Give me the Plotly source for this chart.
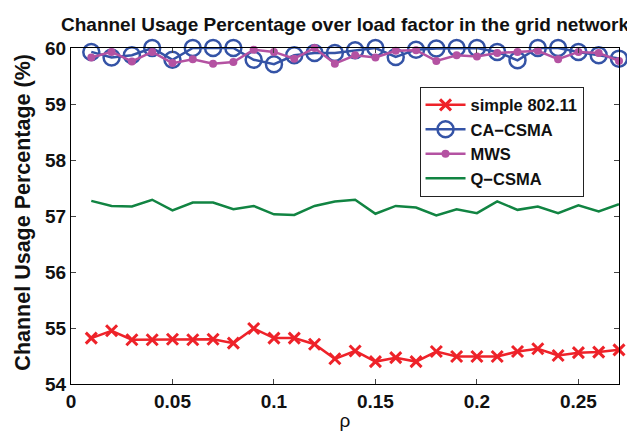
import plotly.graph_objects as go

rho = [round(0.01 * i, 2) for i in range(1, 28)]

simple_80211 = [54.82, 54.95, 54.79, 54.79, 54.80, 54.79, 54.80, 54.73, 54.99, 54.82,
                54.82, 54.71, 54.45, 54.59, 54.40, 54.47, 54.40, 54.58, 54.49, 54.49,
                54.49, 54.58, 54.63, 54.51, 54.56, 54.57, 54.61]
ca_csma = [59.93, 59.83, 59.87, 60.0, 59.79, 60.0, 60.0, 60.0, 59.79, 59.71,
           59.87, 59.91, 59.91, 59.96, 60.0, 59.84, 59.97, 59.99, 60.0, 60.0,
           59.93, 59.78, 60.0, 60.0, 59.93, 59.87, 59.81]
mws = [59.83, 59.93, 59.76, 59.93, 59.73, 59.80, 59.72, 59.75, 59.97, 59.93,
       59.81, 60.0, 59.72, 59.87, 59.83, 59.95, 59.96, 59.77, 59.87, 59.85,
       59.91, 59.93, 59.95, 59.80, 59.93, 59.91, 59.77]
q_csma = [57.27, 57.18, 57.17, 57.29, 57.10, 57.24, 57.24, 57.12, 57.18, 57.03,
          57.02, 57.18, 57.26, 57.29, 57.04, 57.18, 57.15, 57.01, 57.12, 57.05,
          57.26, 57.11, 57.17, 57.05, 57.19, 57.08, 57.21]

RED = "#EE2229"
BLUE = "#3453A6"
MAG = "#B452A2"
GREEN = "#118442"

FONT = "Liberation Sans, Arial, sans-serif"

fig = go.Figure()
fig.add_trace(go.Scatter(
    x=rho, y=simple_80211, name="<b>simple 802.11</b>", mode="lines+markers",
    line=dict(color=RED, width=2.5),
    marker=dict(symbol="x-thin", size=11, color=RED, line=dict(color=RED, width=3)),
    cliponaxis=False))
fig.add_trace(go.Scatter(
    x=rho, y=ca_csma, name="<b>CA−CSMA</b>", mode="lines+markers",
    line=dict(color=BLUE, width=2.5),
    marker=dict(symbol="circle-open", size=16, color=BLUE, line=dict(color=BLUE, width=2.5)),
    cliponaxis=False))
fig.add_trace(go.Scatter(
    x=rho, y=mws, name="<b>MWS</b>", mode="lines+markers",
    line=dict(color=MAG, width=2.5),
    marker=dict(symbol="circle", size=8, color=MAG),
    cliponaxis=False))
fig.add_trace(go.Scatter(
    x=rho, y=q_csma, name="<b>Q−CSMA</b>", mode="lines",
    line=dict(color=GREEN, width=2.5),
    cliponaxis=False))

L, R, T, B = 63, 24, 40, 51
W, H = 635, 431
PW = W - L - R

fig.update_layout(
    width=W, height=H,
    margin=dict(l=L, r=R, t=T, b=B),
    paper_bgcolor="white", plot_bgcolor="white",
    font=dict(family=FONT, color="black"),
    title=dict(text="<b>Channel Usage Percentage over load factor in the grid network</b>",
               x=0.5, xref="paper", xanchor="center", y=1 - 16 / H, yanchor="middle",
               font=dict(size=19, family=FONT, color="#111")),
    showlegend=True,
    legend=dict(x=0.636, y=0.885, xanchor="left", yanchor="top",
                bgcolor="white", bordercolor="#222", borderwidth=1,
                font=dict(size=16.5, family=FONT, color="#111"),
                tracegroupgap=0, itemwidth=40),
    annotations=[dict(
        text="<b>Channel Usage Percentage (%)</b>", textangle=-90,
        xref="paper", yref="paper", x=(15 - L) / PW, y=0.51,
        xanchor="center", yanchor="middle", showarrow=False,
        font=dict(size=21.5, family=FONT, color="#111"))],
)
fig.update_xaxes(
    range=[0, 0.27], dtick=0.05, tick0=0,
    showgrid=False, zeroline=False,
    showline=True, linecolor="black", linewidth=1.2, mirror="ticks",
    ticks="inside", ticklen=5, tickcolor="#444",
    tickfont=dict(size=19, family=FONT, color="#111"),
    tickprefix="<b>", ticksuffix="</b>",
    title=dict(text="ρ", font=dict(size=19, family=FONT, color="#111"), standoff=2),
)
fig.update_yaxes(
    range=[54, 60], dtick=1, tick0=54,
    showgrid=False, zeroline=False,
    showline=True, linecolor="black", linewidth=1.2, mirror="ticks",
    ticks="inside", ticklen=5, tickcolor="#444",
    tickfont=dict(size=19, family=FONT, color="#111"),
    tickprefix="<b>", ticksuffix="</b>",
)

fig.write_html("out.html")
